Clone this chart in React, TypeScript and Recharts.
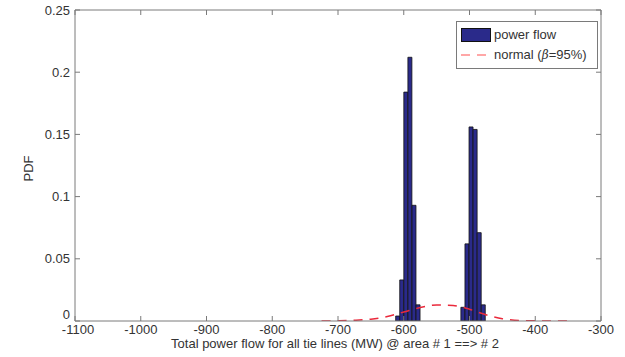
import React from 'react';
import { ComposedChart, Bar, Line, XAxis, YAxis, Legend } from 'recharts';

// histogram bins (centre in MW) and their pdf height
const binCenters = [-609.2, -603.0, -596.8, -590.6, -584.4, -578.2, -510.0, -503.8, -497.6, -491.4, -485.2, -479.0];
const binPdf = [0.004, 0.033, 0.184, 0.212, 0.093, 0.013, 0.011, 0.062, 0.156, 0.154, 0.071, 0.013];

// fitted normal curve
const normalX = [-725, -700, -675, -650, -625, -600, -575, -550, -525, -500, -475, -450, -425, -400, -375, -350];
const normalPdf = [0, 0.0002, 0.0006, 0.0015, 0.0036, 0.0072, 0.0108, 0.0129, 0.0125, 0.0094, 0.005, 0.0018, 0.0004, 0.0001, 0, 0];

const xTicks = [-1100, -1000, -900, -800, -700, -600, -500, -400, -300];
const yTicks = [0, 0.05, 0.1, 0.15, 0.2, 0.25];

const FRAME = '#7a7a7a';
const INK = '#333';
const BAR_FILL = '#2a2a8a';
const CURVE = '#ea2a3c';

const histData = binCenters.map((x, i) => ({ x, pdf: binPdf[i] }));
const normalData = normalX.map((x, i) => ({ x, normal: normalPdf[i] }));

const BottomTick = (props: any) => {
  const { x, y, payload } = props;
  return (
    <g>
      <line x1={x} x2={x} y1={y - 3} y2={y - 8} stroke={FRAME} />
      <text x={x + (payload.value === -1100 ? 3 : 0)} y={y + 1} dy="0.71em" textAnchor="middle" fontSize={13} fill={INK}>{payload.value}</text>
    </g>
  );
};

const LeftTick = (props: any) => {
  const { x, y, payload } = props;
  // MATLAB lifts the zero label clear of the x tick labels
  const lift = payload.value === 0 ? -7 : 0;
  return (
    <g>
      <line x1={x + 5} x2={x + 10} y1={y} y2={y} stroke={FRAME} />
      <text x={x} y={y + lift} dy="0.35em" textAnchor="end" fontSize={13} fill={INK}>{payload.value}</text>
    </g>
  );
};

const TopTick = (props: any) => {
  const { x, y } = props;
  return <line x1={x} x2={x} y1={y} y2={y + 5} stroke={FRAME} />;
};

const RightTick = (props: any) => {
  const { x, y } = props;
  return <line x1={x} x2={x - 5} y1={y} y2={y} stroke={FRAME} />;
};

const renderLegend = () => (
  <div style={{ border: `1px solid ${FRAME}`, background: '#fff', padding: '3px 4px', fontSize: 13, color: INK, lineHeight: '20px' }}>
    <div style={{ display: 'flex', alignItems: 'center' }}>
      <span style={{ display: 'inline-block', width: 30, height: 14, background: BAR_FILL, border: '1px solid #111', marginRight: 3, boxSizing: 'border-box' }} />
      <span>power flow</span>
    </div>
    <div style={{ display: 'flex', alignItems: 'center' }}>
      <svg width={30} height={10} style={{ marginRight: 3 }}>
        <line x1={0} x2={30} y1={5} y2={5} stroke="#ff8a8a" strokeWidth={1.5} strokeDasharray="9 7" />
      </svg>
      <span>normal (<i style={{ fontFamily: 'DejaVu Serif, serif', fontSize: 12 }}>β</i>=95%)</span>
    </div>
  </div>
);

export default function App() {
  return (
    <div style={{ position: 'absolute', left: 0, top: 0, fontFamily: '"Liberation Sans", Arial, sans-serif' }}>
      <ComposedChart width={625} height={357} data={histData} margin={{ top: 9, right: 23, bottom: 0, left: 0 }}>
        <XAxis
          dataKey="x"
          type="number"
          domain={[-1100, -300]}
          ticks={xTicks}
          allowDataOverflow
          height={36}
          stroke={FRAME}
          tickLine={false}
          tickSize={0}
          tickMargin={3}
          tick={<BottomTick />}
          label={{
            content: ({ viewBox }: any) => (
              <text x={viewBox.x + viewBox.width / 2 - 3} y={viewBox.y + 27} textAnchor="middle" fontSize={13} fill={INK}>
                Total power flow for all tie lines (MW) @ area # 1 ==&gt; # 2
              </text>
            ),
          }}
        />
        <XAxis
          xAxisId="top"
          orientation="top"
          dataKey="x"
          type="number"
          domain={[-1100, -300]}
          ticks={xTicks}
          allowDataOverflow
          height={1}
          stroke={FRAME}
          tickLine={false}
          tickSize={0}
          tickMargin={0}
          tick={<TopTick />}
        />
        <YAxis
          type="number"
          domain={[0, 0.25]}
          ticks={yTicks}
          allowDataOverflow
          width={75}
          stroke={FRAME}
          tickLine={false}
          tickSize={0}
          tickMargin={5}
          tick={<LeftTick />}
          label={{
            content: ({ viewBox }: any) => {
              const cx = viewBox.x + 28;
              const cy = viewBox.y + viewBox.height / 2 + 3;
              return (
                <text x={cx} y={cy} dy="0.35em" textAnchor="middle" fontSize={13} fill={INK} transform={`rotate(-90, ${cx}, ${cy})`}>
                  PDF
                </text>
              );
            },
          }}
        />
        <YAxis
          yAxisId="right"
          orientation="right"
          type="number"
          domain={[0, 0.25]}
          ticks={yTicks}
          allowDataOverflow
          width={1}
          stroke={FRAME}
          tickLine={false}
          tickSize={0}
          tickMargin={0}
          tick={<RightTick />}
        />
        <Bar dataKey="pdf" barSize={4} fill={BAR_FILL} stroke="#111" strokeWidth={0.8} isAnimationActive={false} />
        <Line
          data={normalData}
          xAxisId="top"
          yAxisId="right"
          dataKey="normal"
          type="monotone"
          stroke={CURVE}
          strokeWidth={1.5}
          strokeDasharray="9 7"
          dot={false}
          isAnimationActive={false}
        />
        <Legend
          layout="horizontal"
          verticalAlign="middle"
          align="center"
          content={renderLegend}
          wrapperStyle={{ left: 456, top: 21, width: 142 }}
        />
      </ComposedChart>
    </div>
  );
}
